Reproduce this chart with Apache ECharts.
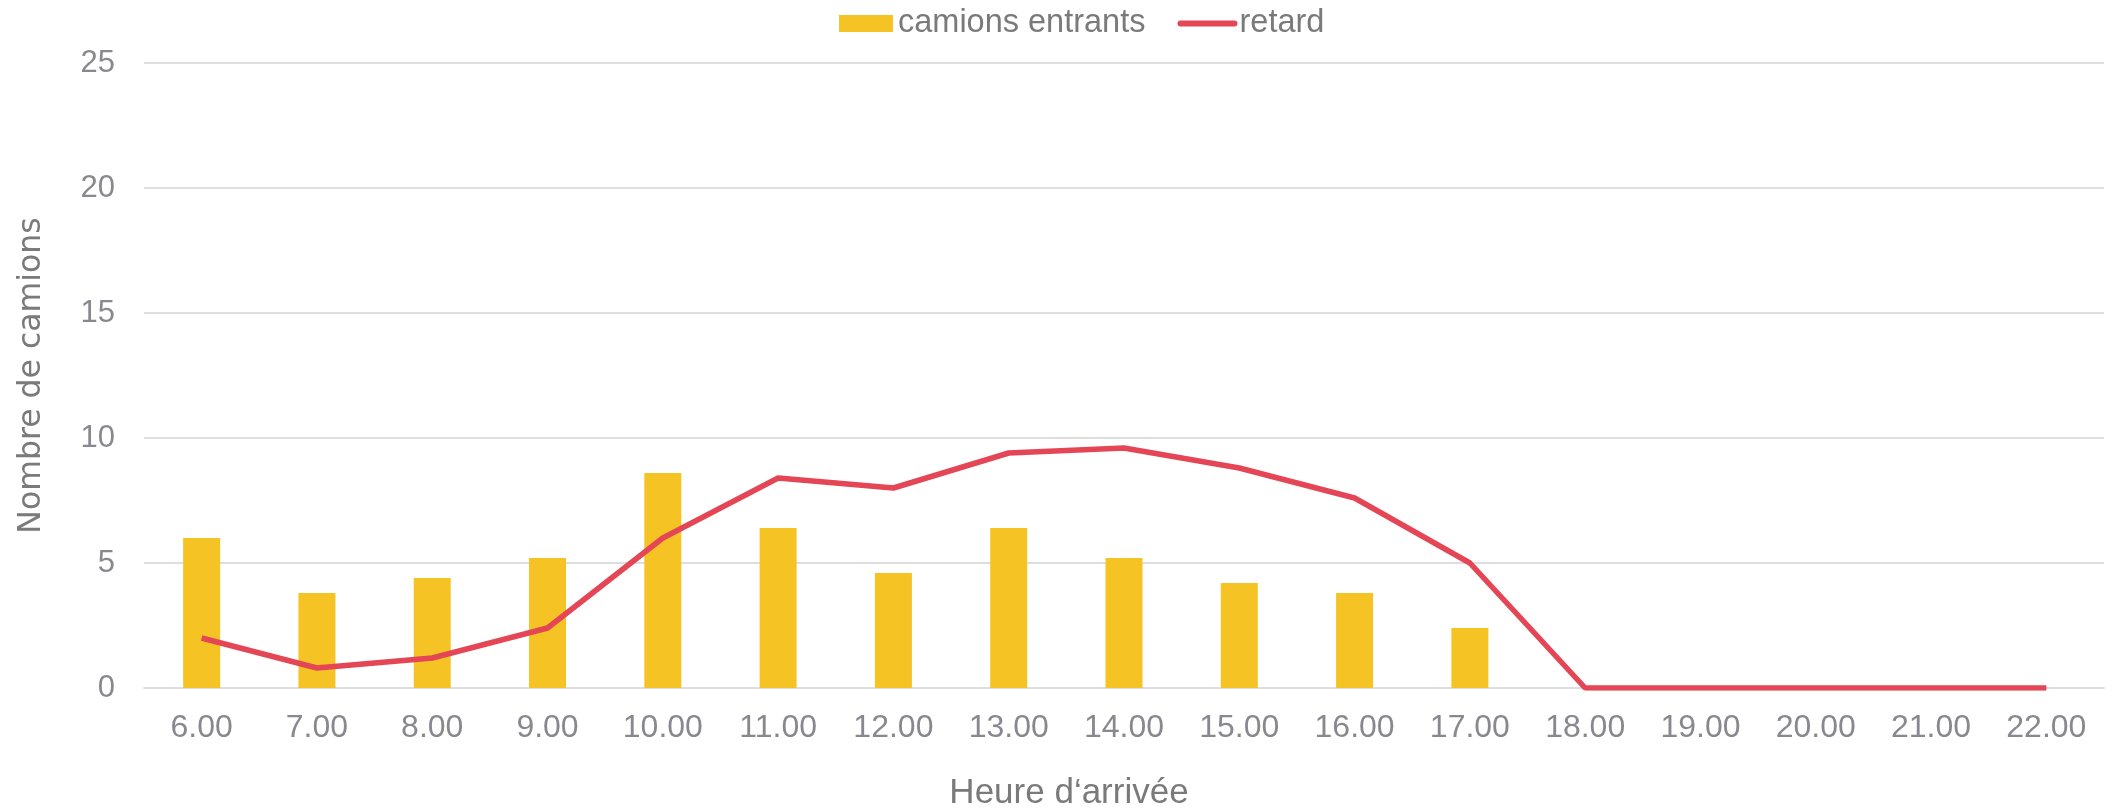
<!DOCTYPE html>
<html>
<head>
<meta charset="utf-8">
<script src="https://cdn.jsdelivr.net/npm/echarts@6/dist/echarts.min.js"></script>
<style>
html,body{margin:0;padding:0;background:#fff;}
#chart{width:2111px;height:810px;}
</style>
</head>
<body>
<div id="chart"></div>
<script>
const categories = ['6.00','7.00','8.00','9.00','10.00','11.00','12.00','13.00','14.00','15.00','16.00','17.00','18.00','19.00','20.00','21.00','22.00'];
const camionsEntrants = [6, 3.8, 4.4, 5.2, 8.6, 6.4, 4.6, 6.4, 5.2, 4.2, 3.8, 2.4, 0, 0, 0, 0, 0];
const retard = [2, 0.8, 1.2, 2.4, 6, 8.4, 8, 9.4, 9.6, 8.8, 7.6, 5, 0, 0, 0, 0, 0];
const yTicks = [0, 5, 10, 15, 20, 25];

const FONT = '"Liberation Sans", Arial, sans-serif';
const GRAY = '#88888f';
const chart = echarts.init(document.getElementById('chart'));
chart.setOption({
  animation: false,
  backgroundColor: '#ffffff',
  legend: {
    left: 834,
    top: 2,
    itemWidth: 54,
    itemHeight: 17,
    itemGap: 32,
    textStyle: { fontFamily: FONT, fontSize: 32.5, color: '#7a7a7a' },
    data: [
      { name: 'camions entrants', icon: 'rect' },
      { name: 'retard', itemStyle: { opacity: 0 }, lineStyle: { width: 6, cap: 'round', color: '#e44656' } }
    ]
  },
  grid: { left: 144, right: 7, top: 63, bottom: 122, containLabel: false, outerBoundsMode: 'none' },
  xAxis: {
    type: 'category',
    data: categories,
    name: 'Heure d\u2018arrivée',
    nameLocation: 'middle',
    nameGap: 88,
    nameTextStyle: { fontFamily: FONT, fontSize: 35, color: '#7a7a7a', padding: [0, 110, 0, 0] },
    axisLine: { lineStyle: { color: '#dedede', width: 2 } },
    axisTick: { show: false },
    axisLabel: { fontFamily: FONT, fontSize: 32, color: GRAY, margin: 24, interval: 0 }
  },
  yAxis: {
    type: 'value',
    min: yTicks[0],
    max: yTicks[yTicks.length - 1],
    interval: 5,
    name: 'Nombre de camions',
    nameLocation: 'middle',
    nameGap: 96,
    nameTextStyle: { fontFamily: '"DejaVu Sans", sans-serif', fontSize: 31.5, color: '#7a7a7a' },
    axisLine: { show: false },
    axisTick: { show: false },
    splitLine: { lineStyle: { color: '#dedede', width: 2 } },
    axisLabel: { fontFamily: FONT, fontSize: 31, color: GRAY, margin: 29 }
  },
  series: [
    {
      name: 'camions entrants',
      type: 'bar',
      data: camionsEntrants,
      barWidth: 37,
      itemStyle: { color: '#f6c324' }
    },
    {
      name: 'retard',
      type: 'line',
      data: retard,
      symbol: 'none',
      lineStyle: { color: '#e44656', width: 5.5 },
      itemStyle: { color: '#e44656' }
    }
  ]
});
</script>
</body>
</html>
